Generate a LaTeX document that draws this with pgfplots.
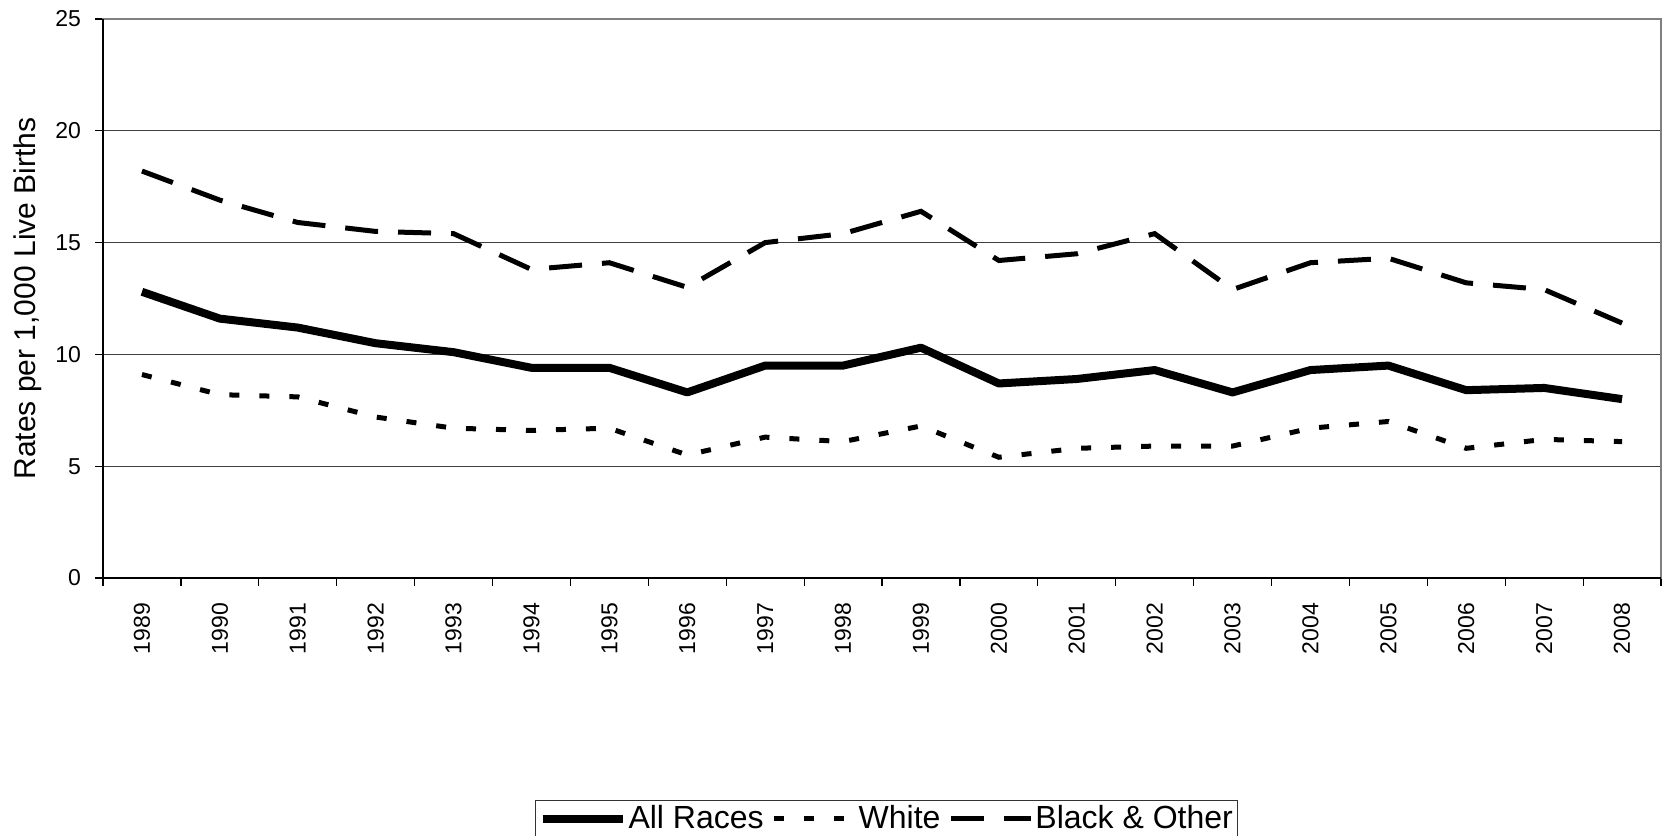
\documentclass[border=0pt]{standalone}
\usepackage{fontspec}
\setmainfont{Liberation Sans}
\usepackage{pgfplots}
\pgfplotsset{compat=1.18}

% rates per 1,000 live births, 1989--2008 (index 0 = 1989)
\pgfplotstableread{
i all white black
0 12.8 9.1 18.2
1 11.6 8.2 16.9
2 11.2 8.1 15.9
3 10.5 7.2 15.5
4 10.1 6.7 15.4
5 9.4 6.6 13.8
6 9.4 6.7 14.1
7 8.3 5.5 13.0
8 9.5 6.3 15.0
9 9.5 6.1 15.4
10 10.3 6.8 16.4
11 8.7 5.4 14.2
12 8.9 5.8 14.5
13 9.3 5.9 15.4
14 8.3 5.9 12.9
15 9.3 6.7 14.1
16 9.5 7.0 14.3
17 8.4 5.8 13.2
18 8.5 6.2 12.9
19 8.0 6.1 11.4
}\rates

\begin{document}
\begin{tikzpicture}
\useasboundingbox (-51.5pt,-128.5pt) rectangle (780pt,289pt);
\begin{axis}[
    at={(0,0)}, anchor=south west,
    scale only axis,
    width=779pt, height=279.5pt,
    xmin=-0.5, xmax=19.5,
    ymin=0, ymax=25,
    ytick={0,5,...,25},
    xtick={0,...,19},
    xticklabels={1989,1990,1991,1992,1993,1994,1995,1996,1997,1998,1999,2000,2001,2002,2003,2004,2005,2006,2007,2008},
    minor xtick={-0.5,0.5,...,19.5},
    every major x tick/.append style={draw=none},
    tick align=outside,
    xtick pos=bottom, ytick pos=left,
    major tick length=4pt, minor tick length=3.8pt,
    tick style={black, line width=0.6pt},
    ymajorgrids,
    major grid style={black!75, line width=0.5pt},
    axis line style={black!50, line width=1pt},
    /pgf/number format/assume math mode=true,
    ticklabel style={font=\fontsize{11.5}{13}\selectfont},
    xticklabel style={rotate=90, anchor=east},
    xticklabel shift=5pt,
    yticklabel shift=3.5pt,
    ylabel={Rates per 1,000 Live Births},
    ylabel style={at={(axis description cs:-0.048,0.5)}, anchor=center, font=\fontsize{15}{17}\selectfont},
    legend columns=3,
    legend style={at={(0.503,-0.397)}, anchor=north, draw=black!80, line width=0.6pt,
        font=\fontsize{16}{18}\selectfont, inner sep=1.5pt,
        nodes={inner sep=1pt},
        /tikz/every even column/.append style={column sep=3pt}},
    legend cell align=left,
    legend image code/.code={\draw[#1] (0pt,0pt) -- (40pt,0pt);},
    after end axis/.code={
        \draw[black, line width=1pt] (rel axis cs:0,1) -- (rel axis cs:0,0) -- (rel axis cs:1,0);
    },
]
\addplot[black, line width=4pt, line join=round] table[x=i, y=all] {\rates};
\addlegendentry{All Races}
\addplot[black, line width=2.5pt, dash pattern=on 5pt off 10pt] table[x=i, y=white] {\rates};
\addlegendentry{White}
\addplot[black, line width=2.5pt, dash pattern=on 16.5pt off 10pt] table[x=i, y=black] {\rates};
\addlegendentry{Black \& Other}
\end{axis}
\end{tikzpicture}
\end{document}
